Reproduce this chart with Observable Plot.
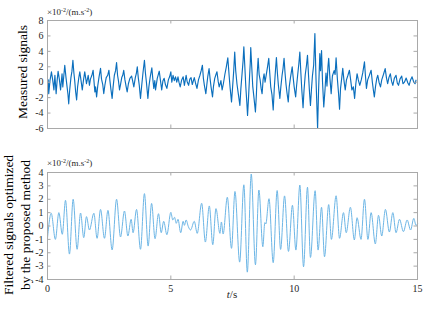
<!DOCTYPE html>
<html><head><meta charset="utf-8">
<script src="https://cdn.jsdelivr.net/npm/d3@7"></script>
<script src="https://cdn.jsdelivr.net/npm/@observablehq/plot@0.6"></script>
<style>
html,body{margin:0;padding:0;background:#fff;}
#wrap{position:relative;width:431px;height:309px;overflow:hidden;}
#wrap svg{position:absolute;left:0;}
</style></head><body><div id="wrap"></div>
<script>
// Measured signal (×10^-2 m/s²) — time (s) and value
const topT = [0.00,0.03,0.05,0.10,0.16,0.21,0.26,0.30,0.35,0.39,0.43,0.48,0.53,0.59,0.62,0.66,0.70,0.75,0.79,0.83,0.86,0.90,0.95,0.99,1.03,1.07,1.10,1.14,1.18,1.22,1.27,1.31,1.36,1.41,1.46,1.51,1.55,1.58,1.65,1.70,1.74,1.80,1.85,1.88,1.92,1.95,1.99,2.04,2.09,2.15,2.19,2.24,2.28,2.33,2.38,2.44,2.49,2.53,2.57,2.62,2.66,2.71,2.76,2.80,2.84,2.88,2.92,2.96,3.01,3.05,3.09,3.14,3.19,3.23,3.28,3.34,3.41,3.45,3.50,3.56,3.60,3.64,3.68,3.72,3.77,3.82,3.87,3.93,3.97,4.01,4.07,4.11,4.16,4.23,4.27,4.31,4.35,4.38,4.45,4.53,4.58,4.63,4.68,4.73,4.78,4.84,4.90,4.95,5.00,5.04,5.09,5.14,5.19,5.24,5.29,5.33,5.38,5.44,5.50,5.55,5.62,5.66,5.72,5.77,5.82,5.87,5.95,6.00,6.06,6.12,6.18,6.23,6.28,6.32,6.36,6.42,6.46,6.50,6.55,6.59,6.63,6.69,6.73,6.78,6.83,6.87,6.92,6.96,6.99,7.03,7.08,7.13,7.19,7.25,7.31,7.36,7.40,7.46,7.50,7.55,7.59,7.63,7.68,7.74,7.80,7.84,7.89,7.93,7.96,8.00,8.04,8.08,8.11,8.15,8.19,8.22,8.24,8.28,8.32,8.37,8.43,8.47,8.50,8.54,8.58,8.62,8.66,8.70,8.74,8.78,8.82,8.86,8.92,8.97,9.01,9.05,9.10,9.15,9.19,9.23,9.28,9.32,9.36,9.42,9.46,9.51,9.55,9.59,9.63,9.67,9.71,9.76,9.80,9.85,9.92,9.96,10.00,10.06,10.10,10.15,10.19,10.23,10.27,10.31,10.36,10.40,10.45,10.50,10.54,10.58,10.62,10.66,10.70,10.74,10.79,10.84,10.88,10.91,10.95,10.99,11.04,11.07,11.11,11.15,11.20,11.25,11.29,11.33,11.37,11.40,11.45,11.50,11.55,11.62,11.66,11.70,11.75,11.80,11.84,11.88,11.93,11.97,12.02,12.07,12.12,12.18,12.24,12.29,12.34,12.40,12.45,12.50,12.55,12.60,12.66,12.72,12.78,12.85,12.89,12.93,12.98,13.05,13.12,13.17,13.21,13.25,13.30,13.35,13.39,13.44,13.50,13.55,13.62,13.69,13.74,13.79,13.84,13.90,13.95,14.00,14.06,14.13,14.18,14.23,14.29,14.36,14.41,14.47,14.54,14.61,14.66,14.72,14.78,14.85,14.90,14.94,15.00];
const topV = [-0.3,0.3,-1.5,0.2,1.35,0.3,-1.0,0.9,-1.5,0.2,1.4,0.4,-1.0,1.1,-0.6,0.8,2.2,0.6,-0.5,-1.6,-2.8,-1.0,0.6,1.4,2.85,1.2,0.3,-1.2,-2.3,-0.6,0.6,1.35,0.2,-1.0,0.3,1.35,0.5,-0.2,0.9,-0.4,0.4,0.9,1.55,0.3,-1.25,-0.6,-1.9,-0.4,0.7,1.8,0.4,-0.3,-1.47,-0.3,0.6,0.9,1.55,0.2,-0.9,-2.1,-0.6,0.9,1.5,2.55,0.9,0.1,-1.0,-0.3,0.6,0.9,1.55,0.3,-0.6,-1.25,-0.2,0.5,0.8,0.2,-0.6,0.6,1.1,2.0,0.6,-0.4,-2.1,-0.4,1.2,2.85,1.2,0.0,-2.1,-0.6,0.6,1.86,0.4,-0.8,0.2,-1.0,0.5,1.43,0.2,-1.0,0.2,0.5,-0.3,-0.8,0.3,0.7,1.35,0.0,0.9,0.2,0.7,0.0,0.7,0.0,-0.6,0.3,0.7,-0.4,0.9,0.1,-0.4,0.4,0.6,-0.3,0.6,-0.1,-0.8,0.3,0.9,1.5,2.2,0.5,-0.4,-1.5,-0.3,0.8,1.77,0.5,-0.6,-1.9,-0.5,0.5,1.0,1.35,0.1,-0.6,-0.3,0.2,-1.0,-0.2,1.0,2.0,3.16,1.0,-0.6,-2.55,-0.8,1.5,3.9,1.5,-0.2,-1.6,-3.0,-0.8,1.2,2.8,4.6,2.0,-0.6,-2.6,-4.3,-2.0,0.6,2.5,4.5,2.0,-0.5,-2.0,-3.85,-1.5,1.0,3.1,1.0,0.3,-0.8,-1.5,0.3,1.1,0.0,0.8,2.0,3.1,1.2,-0.6,-1.6,-3.6,-1.0,1.0,3.2,1.2,-0.4,-2.1,-0.6,0.9,1.8,3.1,1.2,-0.3,-1.4,-2.55,-0.6,0.6,2.0,0.6,-0.6,-1.9,-0.4,1.2,2.4,3.9,1.3,-1.0,-3.3,-1.0,1.0,2.2,3.5,1.0,-1.2,-3.0,-1.0,0.8,2.2,6.3,1.0,-2.0,-6.0,-1.0,3.7,1.5,4.1,0.0,-3.2,-1.0,1.2,-0.5,2.0,3.1,0.5,-1.5,0.8,1.5,1.0,3.16,0.5,-1.5,-3.5,-0.8,0.6,1.8,0.2,-1.0,0.3,0.9,1.55,0.3,-1.0,-0.6,-2.1,-0.2,1.1,0.3,-0.4,0.3,1.2,2.64,0.8,-0.8,0.3,0.9,1.55,0.0,-1.0,-1.9,-0.5,0.5,0.9,0.0,-0.6,0.3,1.0,1.77,0.6,-0.2,0.6,1.1,0.1,-0.4,0.5,0.9,-0.1,-0.4,0.4,0.8,-0.2,0.0,0.55,-0.1,-0.4,0.3,0.7,0.0,-0.2,0.26];

// Filtered signal (×10^-2 m/s²) — time (s) and value at its turning points
const botT = [0.00,0.15,0.32,0.46,0.60,0.73,0.89,1.04,1.20,1.34,1.47,1.58,1.70,1.88,2.01,2.15,2.31,2.45,2.62,2.80,2.96,3.12,3.26,3.39,3.47,3.61,3.77,3.93,4.08,4.22,4.36,4.50,4.61,4.71,4.84,5.00,5.08,5.15,5.22,5.29,5.40,5.50,5.55,5.62,5.71,5.80,5.95,6.07,6.25,6.40,6.56,6.70,6.83,6.99,7.05,7.12,7.29,7.46,7.60,7.79,7.96,8.10,8.26,8.43,8.57,8.73,8.81,8.85,8.98,9.15,9.31,9.45,9.61,9.77,9.93,10.07,10.23,10.38,10.54,10.66,10.85,10.97,11.11,11.23,11.40,11.51,11.70,11.84,12.00,12.11,12.28,12.44,12.55,12.71,12.85,12.99,13.12,13.29,13.42,13.55,13.70,13.86,14.00,14.13,14.27,14.43,14.58,14.72,14.85,14.94,15.00];
const botV = [-0.9,0.95,-1.0,1.0,-0.62,1.92,-2.1,2.0,-1.74,0.97,-0.87,0.70,-0.30,0.95,-0.92,1.24,-0.92,1.17,-1.79,2.0,-0.82,1.12,-0.75,0.50,-0.50,1.24,-1.74,2.42,-1.5,1.69,-0.95,0.92,-0.5,0.35,-0.65,1.02,0.45,0.65,0.2,0.5,-0.5,0.35,0.05,0.45,-0.05,-0.3,0.35,-0.55,1.7,-1.2,1.5,-1.4,1.3,-0.55,0.3,-0.6,2.15,-1.67,2.58,-2.7,3.08,-3.45,3.88,-2.9,2.69,-1.55,0.25,0.15,2.04,-2.74,2.65,-1.75,2.25,-1.9,1.55,-1.8,3.06,-3.05,2.9,-2.35,2.64,-1.8,1.4,-2.3,1.6,-1.0,2.26,-0.92,1.0,-0.5,1.4,-1.04,0.62,-1.0,2.0,-1.0,1.0,-1.34,0.8,-0.75,1.24,-0.45,1.0,-0.5,0.5,-0.42,0.45,-0.3,0.57,0.05,0.15];

const xTicks = [0, 5, 10, 15];
const topYTicks = [-6, -4, -2, 0, 2, 4, 6, 8];
const botYTicks = [-4, -3, -2, -1, 0, 1, 2, 3, 4];
const topTitle = "Measured signals";
const botTitle = ["Filtered signals optimized", "by the proposed method"];
const xTitle = ["t", "/s"];

const FONT = '"Liberation Serif","Times New Roman",serif';
const GRID = "#a9a9a9";
const wrap = document.getElementById("wrap");

function panel({T, V, color, sw, curve, yTicks, height, mt, mb, showX}) {
  const data = T.map((t, i) => ({t, v: V[i]}));
  const yDomain = [yTicks[0], yTicks[yTicks.length - 1]];
  const ml = 47, mr = 14;
  const xPer = 15 / (431 - ml - mr);
  const yPer = (yDomain[1] - yDomain[0]) / (height - mt - mb);
  const tk = 3.5;
  const inner = yTicks.slice(1, -1);
  const marks = [
    Plot.line(data, {x: "t", y: "v", stroke: color, strokeWidth: sw, curve}),
    Plot.frame({stroke: GRID}),
    Plot.ruleX([5, 10], {y1: yDomain[0], y2: yDomain[0] + tk * yPer, stroke: GRID}),
    Plot.ruleX([5, 10], {y1: yDomain[1], y2: yDomain[1] - tk * yPer, stroke: GRID}),
    Plot.ruleY(inner, {x1: 0, x2: tk * xPer, stroke: GRID}),
    Plot.ruleY(inner, {x1: 15, x2: 15 - tk * xPer, stroke: GRID}),
    Plot.axisY({ticks: yTicks, tickSize: 0, tickPadding: 4, tickFormat: d => String(d), label: null})
  ];
  if (showX) marks.push(Plot.axisX({ticks: xTicks, tickSize: 0, tickPadding: 5, tickFormat: d => String(d), label: null}));
  return Plot.plot({
    width: 431, height,
    marginLeft: ml, marginRight: mr, marginTop: mt, marginBottom: mb,
    x: {domain: [0, 15], axis: showX ? undefined : null},
    y: {domain: yDomain},
    style: {fontFamily: FONT, fontSize: "10px", color: "#262626", background: "transparent", overflow: "visible"},
    marks
  });
}

function unitText(svg, x, y) {
  const t = d3.select(svg).append("text").attr("x", x).attr("y", y).attr("text-anchor", "start")
    .attr("font-family", FONT).attr("font-size", 9).attr("fill", "#262626");
  t.append("tspan").text("×10");
  t.append("tspan").attr("font-size", 6).attr("dy", -3).text("-2");
  t.append("tspan").attr("dy", 3).text("/(m.s");
  t.append("tspan").attr("font-size", 6).attr("dy", -3).text("-2");
  t.append("tspan").attr("dy", 3).text(")");
}

const topSvg = panel({T: topT, V: topV, color: "#0b6fbd", sw: 1.15, curve: "linear", yTicks: topYTicks, height: 150, mt: 20, mb: 22, showX: false});
topSvg.style.top = "0px";
wrap.appendChild(topSvg);
unitText(topSvg, 47, 15);
d3.select(topSvg).append("text").attr("transform", "translate(27,72) rotate(-90)")
  .attr("text-anchor", "middle").attr("font-family", FONT).attr("font-size", 13.5).attr("fill", "#000").text(topTitle);

const botSvg = panel({T: botT, V: botV, color: "#6db6e6", sw: 1, curve: "monotone-x", yTicks: botYTicks, height: 159, mt: 22, mb: 30, showX: true});
botSvg.style.top = "150px";
wrap.appendChild(botSvg);
unitText(botSvg, 47, 16);
botTitle.forEach((s, i) => {
  d3.select(botSvg).append("text").attr("transform", `translate(${13 + i * 17},75) rotate(-90)`)
    .attr("text-anchor", "middle").attr("font-family", FONT).attr("font-size", 13.5).attr("fill", "#000").text(s);
});
const xl = d3.select(botSvg).append("text").attr("x", 232).attr("y", 148).attr("text-anchor", "middle")
  .attr("font-family", FONT).attr("font-size", 11).attr("fill", "#262626");
xl.append("tspan").attr("font-style", "italic").text(xTitle[0]);
xl.append("tspan").text(xTitle[1]);
</script></body></html>
